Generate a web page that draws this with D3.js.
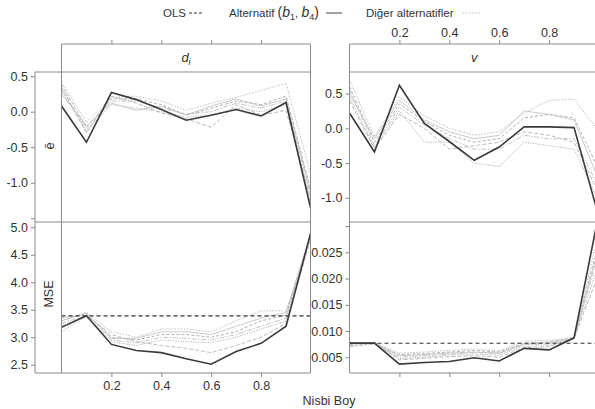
<!DOCTYPE html>
<html>
<head>
<meta charset="utf-8">
<title>Nisbi Boy</title>
<script src="https://d3js.org/d3.v7.min.js"></script>
<style>
  body { margin: 0; background: #fff; }
  svg { font-family: "Liberation Sans", Arial, sans-serif; }
</style>
</head>
<body>
<svg id="chart" width="595" height="409"></svg>
<script>
// relative height (Nisbi Boy)
var xVals = [0, 0.1, 0.2, 0.3, 0.4, 0.5, 0.6, 0.7, 0.8, 0.9, 1.0];

// mean error, d_i
var diMeanMain = [0.08, -0.43, 0.27, 0.17, 0.03, -0.12, -0.05, 0.03, -0.06, 0.13, -1.38];
var diMeanOther = [
  [0.42, -0.15, 0.20, 0.22, 0.15, 0.02, 0.12, 0.20, 0.30, 0.40, -0.90],
  [0.38, -0.22, 0.18, 0.18, 0.10, -0.05, 0.05, 0.15, 0.10, 0.22, -1.10],
  [0.32, -0.25, 0.15, 0.15, 0.05, -0.03, 0.00, 0.12, 0.05, 0.15, -1.20],
  [0.30, -0.28, 0.10, 0.05, 0.00, -0.08, -0.05, 0.05, 0.00, 0.10, -1.30],
  [0.35, -0.30, 0.22, 0.12, -0.02, -0.10, -0.22, 0.10, -0.05, 0.02, -1.25],
  [0.25, -0.20, 0.12, 0.02, 0.08, -0.05, 0.08, 0.18, 0.08, 0.18, -1.15]
];

// mean error, v
var vMeanMain = [0.22, -0.34, 0.62, 0.07, -0.19, -0.46, -0.27, 0.02, 0.02, 0.01, -1.28];
var vMeanOther = [
  [0.70, -0.12, 0.45, 0.18, 0.00, -0.10, -0.05, 0.22, 0.40, 0.42, -0.05],
  [0.60, -0.20, 0.35, 0.10, -0.10, -0.20, -0.15, 0.15, 0.20, 0.15, -0.60],
  [0.55, -0.25, 0.30, 0.05, -0.15, -0.30, -0.30, -0.10, -0.15, -0.15, -0.85],
  [0.45, -0.28, 0.25, -0.20, -0.20, -0.50, -0.55, -0.20, -0.25, -0.30, -1.05],
  [0.40, -0.30, 0.20, 0.00, -0.30, -0.25, -0.20, -0.05, -0.10, -0.20, -0.95],
  [0.50, -0.15, 0.40, 0.12, -0.05, -0.15, -0.10, 0.25, 0.20, 0.12, -0.75]
];

// MSE, d_i
var diMseMain = [3.18, 3.39, 2.87, 2.76, 2.72, 2.61, 2.51, 2.74, 2.89, 3.20, 4.92];
var diMseOther = [
  [3.30, 3.45, 3.10, 3.00, 3.15, 3.15, 3.10, 3.30, 3.48, 3.48, 4.85],
  [3.35, 3.42, 3.00, 2.95, 3.05, 3.05, 3.00, 3.10, 3.30, 3.40, 4.88],
  [3.25, 3.40, 2.95, 2.90, 3.00, 2.98, 2.95, 3.05, 3.20, 3.35, 4.90],
  [3.10, 3.38, 2.92, 2.85, 2.95, 2.92, 2.90, 3.00, 3.15, 3.30, 4.86],
  [3.20, 3.40, 3.05, 2.92, 2.85, 2.80, 2.72, 2.85, 3.00, 3.25, 4.80],
  [3.30, 3.44, 2.98, 2.98, 3.10, 3.10, 3.05, 3.20, 3.35, 3.45, 4.90]
];

// MSE, v
var vMseMain = [0.0077, 0.0077, 0.0037, 0.0040, 0.0042, 0.0049, 0.0043, 0.0067, 0.0064, 0.0087, 0.0325];
var vMseOther = [
  [0.0075, 0.0078, 0.0058, 0.0060, 0.0063, 0.0066, 0.0062, 0.0081, 0.0082, 0.0088, 0.029],
  [0.0072, 0.0076, 0.0055, 0.0057, 0.0060, 0.0063, 0.0060, 0.0077, 0.0079, 0.0087, 0.027],
  [0.0070, 0.0075, 0.0050, 0.0053, 0.0056, 0.0059, 0.0057, 0.0074, 0.0075, 0.0086, 0.025],
  [0.0078, 0.0077, 0.0047, 0.0050, 0.0054, 0.0056, 0.0054, 0.0071, 0.0072, 0.0085, 0.023],
  [0.0074, 0.0079, 0.0045, 0.0048, 0.0051, 0.0053, 0.0050, 0.0068, 0.0070, 0.0087, 0.021],
  [0.0076, 0.0076, 0.0053, 0.0055, 0.0058, 0.0060, 0.0058, 0.0075, 0.0078, 0.0086, 0.026]
];

var olsMse = [3.39, 0.00767];   // OLS reference, d_i and v

var xTicks = [0.2, 0.4, 0.6, 0.8];

var svg = d3.select("#chart");
var axisCol = "#8a8a8a", textCol = "#333";
var otherStyles = [
  {c: "#b8b8b8", d: "1.5,1.5"},
  {c: "#a8a8a8", d: "3,2"},
  {c: "#c0c0c0", d: "5,1.5,1.5,1.5"},
  {c: "#9c9c9c", d: "1,1.5"},
  {c: "#b4b4b4", d: "4,2"},
  {c: "#c4c4c4", d: null}
];

var rows = {top: [72, 222], bottom: [222, 373]};
var cols = [
  {x: d3.scaleLinear().domain([0, 1]).range([61.5, 311]), left: 61.5, right: 310.5, axisX: 35, strip: "d", topLabels: false},
  {x: d3.scaleLinear().domain([0, 1]).range([349.5, 599]), left: 349.5, right: 599, axisX: 349.5, strip: "v", topLabels: true}
];

var panels = [
  {col: 0, row: "top", domain: [-1.553, 0.559], main: diMeanMain, other: diMeanOther, ols: null,
   ticks: [0.5, 0, -0.5, -1.0, -1.5], hide: [-1.5], fmt: function(d){ return d.toFixed(1); }},
  {col: 1, row: "top", domain: [-1.348, 0.81], main: vMeanMain, other: vMeanOther, ols: null,
   ticks: [0.5, 0, -0.5, -1.0], hide: [], fmt: function(d){ return d.toFixed(1); }},
  {col: 0, row: "bottom", domain: [2.35, 5.096], main: diMseMain, other: diMseOther, ols: olsMse[0],
   ticks: [2.5, 3.0, 3.5, 4.0, 4.5, 5.0], hide: [], fmt: function(d){ return d.toFixed(1); }},
  {col: 1, row: "bottom", domain: [0.002, 0.03077], main: vMseMain, other: vMseOther, ols: olsMse[1],
   ticks: [0.005, 0.010, 0.015, 0.020, 0.025, 0.030], hide: [0.030], fmt: function(d){ return d.toFixed(3); }}
];

var defs = svg.append("defs");

panels.forEach(function(p, i) {
  var c = cols[p.col], r = rows[p.row];
  var y = d3.scaleLinear().domain(p.domain).range([r[1], r[0]]);

  defs.append("clipPath").attr("id", "clip" + i)
    .append("rect").attr("x", c.left).attr("y", r[0])
    .attr("width", c.right - c.left).attr("height", r[1] - r[0]);

  var g = svg.append("g").attr("clip-path", "url(#clip" + i + ")");
  var line = d3.line().x(function(d, j){ return c.x(xVals[j]); }).y(function(d){ return y(d); });

  p.other.forEach(function(s, k) {
    g.append("path").attr("d", line(s)).attr("fill", "none")
      .attr("stroke", otherStyles[k].c).attr("stroke-width", 0.9)
      .attr("stroke-dasharray", otherStyles[k].d);
  });

  if (p.ols !== null) {
    g.append("line").attr("x1", c.x(0)).attr("x2", c.x(1))
      .attr("y1", y(p.ols)).attr("y2", y(p.ols))
      .attr("stroke", "#333").attr("stroke-width", 1.2).attr("stroke-dasharray", "4,3");
  }

  g.append("path").attr("d", line(p.main)).attr("fill", "none")
    .attr("stroke", "#3a3a3a").attr("stroke-width", 1.6);

  // y axis
  var ax = svg.append("g").attr("transform", "translate(" + c.axisX + ",0)")
    .call(d3.axisLeft(y).tickValues(p.ticks).tickSize(4).tickPadding(3)
      .tickFormat(function(d){ return p.hide.indexOf(d) >= 0 ? "" : p.fmt(d); }));
  ax.select(".domain").remove();
  ax.selectAll("line").attr("stroke", axisCol);
  ax.selectAll("text").attr("fill", textCol).style("font-size", "12.5px").style("font-family", "Liberation Sans, Arial, sans-serif");
});

// frames
cols.forEach(function(c) {
  var fr = svg.append("g").attr("stroke", axisCol).attr("stroke-width", 1).attr("fill", "none");
  fr.append("line").attr("x1", c.left).attr("x2", c.right).attr("y1", 44).attr("y2", 44);
  [72, 222, 373].forEach(function(yy) {
    fr.append("line").attr("x1", c.axisX).attr("x2", c.right).attr("y1", yy).attr("y2", yy);
  });
  fr.append("line").attr("x1", c.axisX).attr("x2", c.axisX).attr("y1", 72).attr("y2", 373);
  fr.append("line").attr("x1", c.left).attr("x2", c.left).attr("y1", 44).attr("y2", 373);
  fr.append("line").attr("x1", c.right).attr("x2", c.right).attr("y1", 44).attr("y2", 373);

  var top = svg.append("g").attr("transform", "translate(0,44)")
    .call(d3.axisTop(c.x).tickValues(xTicks).tickSize(4).tickPadding(3)
      .tickFormat(function(d){ return c.topLabels ? d.toFixed(1) : ""; }));
  var bot = svg.append("g").attr("transform", "translate(0,373)")
    .call(d3.axisBottom(c.x).tickValues(xTicks).tickSize(4).tickPadding(4)
      .tickFormat(function(d){ return c.topLabels ? "" : d.toFixed(1); }));
  [top, bot].forEach(function(a) {
    a.select(".domain").remove();
    a.selectAll("line").attr("stroke", axisCol);
    a.selectAll("text").attr("fill", textCol).style("font-size", "12.5px").style("font-family", "Liberation Sans, Arial, sans-serif");
  });

  // strip labels
  var st = svg.append("text").attr("x", (c.left + c.right) / 2).attr("y", 62)
    .attr("text-anchor", "middle").attr("fill", textCol)
    .style("font-size", "13px").style("font-style", "italic");
  if (c.strip === "d") {
    st.append("tspan").text("d");
    st.append("tspan").attr("dy", 3).style("font-size", "9px").text("i");
  } else {
    st.text("v");
  }
});

// axis titles
svg.append("text").attr("transform", "translate(49,146) rotate(-90)")
  .attr("text-anchor", "middle").attr("dominant-baseline", "central")
  .attr("fill", textCol).style("font-size", "13px").text("ē");
svg.append("text").attr("transform", "translate(49,294) rotate(-90)")
  .attr("text-anchor", "middle").attr("dominant-baseline", "central")
  .attr("fill", textCol).style("font-size", "12.5px").text("MSE");
svg.append("text").attr("x", 329).attr("y", 405).attr("text-anchor", "middle")
  .attr("fill", textCol).style("font-size", "12.5px").text("Nisbi Boy");

// legend
var lg = svg.append("g").attr("fill", textCol).style("font-size", "11.5px");
lg.append("text").attr("x", 163).attr("y", 17).text("OLS");
lg.append("line").attr("x1", 189).attr("x2", 203).attr("y1", 13).attr("y2", 13)
  .attr("stroke", "#333").attr("stroke-width", 1).attr("stroke-dasharray", "3,2");
var alt = lg.append("text").attr("x", 229).attr("y", 17);
alt.append("tspan").text("Alternatif ");
alt.append("tspan").style("font-size", "14px").text("(");
alt.append("tspan").style("font-style", "italic").style("font-size", "14px").text("b");
alt.append("tspan").attr("dy", 3).style("font-size", "9px").text("1");
alt.append("tspan").attr("dy", -3).text(", ");
alt.append("tspan").style("font-style", "italic").style("font-size", "14px").text("b");
alt.append("tspan").attr("dy", 3).style("font-size", "9px").text("4");
alt.append("tspan").attr("dy", -3).style("font-size", "14px").text(")");
lg.append("line").attr("x1", 326).attr("x2", 342).attr("y1", 13).attr("y2", 13)
  .attr("stroke", "#444").attr("stroke-width", 1);
lg.append("text").attr("x", 366).attr("y", 17).text("Diğer alternatifler");
lg.append("line").attr("x1", 463).attr("x2", 480).attr("y1", 13).attr("y2", 13)
  .attr("stroke", "#bbb").attr("stroke-width", 1).attr("stroke-dasharray", "1.5,1.5");
</script>
</body>
</html>
